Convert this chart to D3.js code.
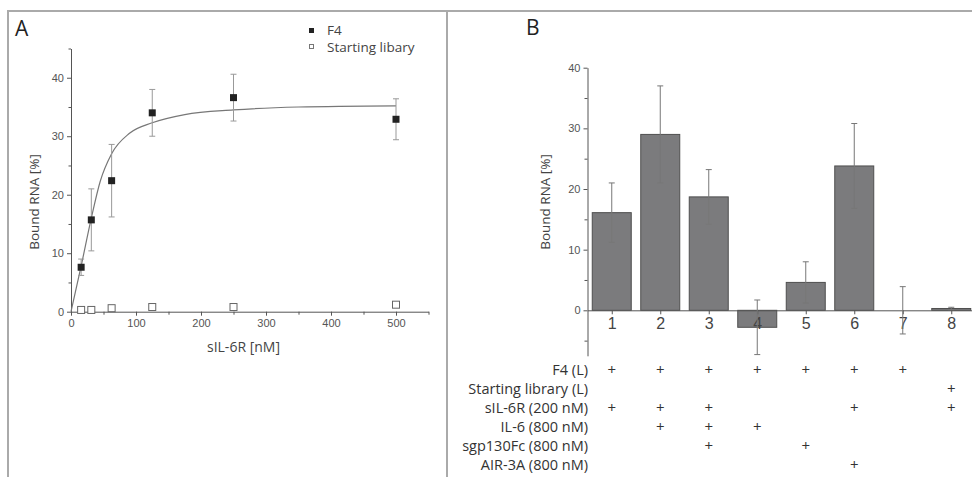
<!DOCTYPE html>
<html>
<head>
<meta charset="utf-8">
<script src="https://cdn.jsdelivr.net/npm/d3@7"></script>
<style>
body { margin: 0; background: #fff; }
svg { display: block; font-family: "Open Sans", sans-serif; }
.tick text { fill: #555; font-size: 11px; }
.domain, .tick line { stroke: #555; }
</style>
</head>
<body>
<svg width="972" height="477"></svg>
<script>
// panel A data
var conc = [15.6, 31.25, 62.5, 125, 250, 500];
var f4Bound = [7.6, 15.7, 22.4, 34.0, 36.6, 32.9];
var f4Err = [1.4, 5.3, 6.2, 4.0, 4.0, 3.5];
var libBound = [0.3, 0.3, 0.6, 0.8, 0.8, 1.2];
// fit curve
var fitX = [0, 15.6, 31.25, 45, 62.5, 90, 125, 175, 250, 350, 500];
var fitY = [0, 7.8, 16.0, 22.3, 27.0, 30.5, 32.3, 33.7, 34.5, 35.0, 35.2];

// panel B data
var lanes = [1, 2, 3, 4, 5, 6, 7, 8];
var laneBound = [16.1, 29.0, 18.7, -2.8, 4.6, 23.8, 0, 0.3];
var laneErr = [4.9, 8.0, 4.5, 4.5, 3.4, 7.0, 3.9, 0.2];
var rowLabels = ["F4 (L)", "Starting library (L)", "sIL-6R (200 nM)", "IL-6 (800 nM)", "sgp130Fc (800 nM)", "AIR-3A (800 nM)"];
var rowLanes = [[1,2,3,4,5,6,7], [8], [1,2,3,6,8], [2,3,4], [3,5], [6]];

var svg = d3.select("svg");

// panel frames
svg.append("path")
  .attr("d", "M8,480 V11 H972 M447,11 V480")
  .attr("fill", "none")
  .attr("stroke", "#aaa")
  .attr("stroke-width", 2);

svg.append("text").attr("x", 15).attr("y", 36).attr("font-size", 21).attr("fill", "#222").text("A");
svg.append("text").attr("x", 526).attr("y", 35).attr("font-size", 21).attr("fill", "#222").text("B");

// ---------- panel A ----------
var xA = d3.scaleLinear().domain([0, 550]).range([71, 428.5]);
var yA = d3.scaleLinear().domain([0, 45]).range([311.7, 48.5]);

var gA = svg.append("g");

gA.append("g")
  .attr("transform", "translate(0," + yA(0) + ")")
  .call(d3.axisBottom(xA).tickValues([0,100,200,300,400,500]).tickSize(4).tickSizeOuter(0).tickPadding(4));
gA.append("g")
  .attr("transform", "translate(0," + yA(0) + ")")
  .call(d3.axisBottom(xA).tickValues([50,150,250,350,450,550]).tickSize(3).tickFormat("").tickSizeOuter(0))
  .select(".domain").remove();

gA.append("g")
  .attr("transform", "translate(" + xA(0) + ",0)")
  .call(d3.axisLeft(yA).tickValues([0,10,20,30,40]).tickSize(4).tickSizeOuter(0).tickPadding(3));
gA.append("g")
  .attr("transform", "translate(" + xA(0) + ",0)")
  .call(d3.axisLeft(yA).tickValues([5,15,25,35,45]).tickSize(2.5).tickFormat("").tickSizeOuter(0))
  .select(".domain").remove();

gA.append("text")
  .attr("x", (xA(0) + xA(500)) / 2 + 10).attr("y", 352)
  .attr("text-anchor", "middle").attr("font-size", 14).attr("fill", "#444")
  .text("sIL-6R [nM]");
gA.append("text")
  .attr("transform", "translate(39,202) rotate(-90)")
  .attr("text-anchor", "middle").attr("font-size", 13.5).attr("fill", "#444")
  .text("Bound RNA [%]");

var fitLine = d3.line()
  .x(function(d, i) { return xA(fitX[i]); })
  .y(function(d, i) { return yA(fitY[i]); })
  .curve(d3.curveMonotoneX);
gA.append("path")
  .datum(fitX)
  .attr("d", fitLine)
  .attr("fill", "none")
  .attr("stroke", "#777")
  .attr("stroke-width", 1.2);

// error bars F4
var errA = gA.selectAll(".errA").data(conc).enter().append("g").attr("class", "errA")
  .attr("stroke", "#999").attr("stroke-width", 1);
errA.append("line")
  .attr("x1", function(d) { return xA(d); }).attr("x2", function(d) { return xA(d); })
  .attr("y1", function(d, i) { return yA(f4Bound[i] + f4Err[i]); })
  .attr("y2", function(d, i) { return yA(f4Bound[i] - f4Err[i]); });
errA.append("line")
  .attr("x1", function(d) { return xA(d) - 3; }).attr("x2", function(d) { return xA(d) + 3; })
  .attr("y1", function(d, i) { return yA(f4Bound[i] + f4Err[i]); })
  .attr("y2", function(d, i) { return yA(f4Bound[i] + f4Err[i]); });
errA.append("line")
  .attr("x1", function(d) { return xA(d) - 3; }).attr("x2", function(d) { return xA(d) + 3; })
  .attr("y1", function(d, i) { return yA(f4Bound[i] - f4Err[i]); })
  .attr("y2", function(d, i) { return yA(f4Bound[i] - f4Err[i]); });

gA.selectAll(".lib").data(conc).enter().append("rect")
  .attr("class", "lib")
  .attr("x", function(d) { return xA(d) - 3.5; })
  .attr("y", function(d, i) { return yA(libBound[i]) - 3.5; })
  .attr("width", 7).attr("height", 7)
  .attr("fill", "#fff").attr("stroke", "#666");

gA.selectAll(".f4").data(conc).enter().append("rect")
  .attr("class", "f4")
  .attr("x", function(d) { return xA(d) - 3.5; })
  .attr("y", function(d, i) { return yA(f4Bound[i]) - 3.5; })
  .attr("width", 7).attr("height", 7)
  .attr("fill", "#222");

// legend
var legend = gA.append("g").attr("font-size", 13.5).attr("fill", "#444");
legend.append("rect").attr("x", 309).attr("y", 28).attr("width", 5).attr("height", 5).attr("fill", "#222");
legend.append("rect").attr("x", 309.5).attr("y", 44.5).attr("width", 4).attr("height", 4).attr("fill", "#fff").attr("stroke", "#777");
legend.append("text").attr("x", 327).attr("y", 35).text("F4");
legend.append("text").attr("x", 327).attr("y", 52).text("Starting libary");

// ---------- panel B ----------
var xB = d3.scaleLinear().domain([0.5, 8.5]).range([587.5, 975.5]);
var yB = d3.scaleLinear().domain([-7.5, 40]).range([355.8, 67.7]);
var barW = 39;

var gB = svg.append("g");

gB.append("g")
  .attr("transform", "translate(" + xB(0.5) + ",0)")
  .call(d3.axisLeft(yB).tickValues([0,10,20,30,40]).tickSize(4).tickSizeOuter(0).tickPadding(3));
gB.append("g")
  .attr("transform", "translate(" + xB(0.5) + ",0)")
  .call(d3.axisLeft(yB).tickValues([-5,5,15,25,35]).tickSize(3).tickFormat("").tickSizeOuter(0))
  .select(".domain").remove();

gB.selectAll(".bar").data(lanes).enter().append("rect")
  .attr("class", "bar")
  .attr("x", function(d) { return xB(d) - barW / 2; })
  .attr("y", function(d, i) { return yB(Math.max(0, laneBound[i])); })
  .attr("width", barW)
  .attr("height", function(d, i) { return Math.abs(yB(laneBound[i]) - yB(0)); })
  .attr("fill", "#7b7b7d").attr("stroke", "#4f4f4f").attr("stroke-width", 1);

var xAxisB = gB.append("g")
  .attr("transform", "translate(0," + yB(0) + ")")
  .call(d3.axisBottom(xB).tickValues(lanes).tickSize(4).tickSizeOuter(0).tickPadding(3));
xAxisB.selectAll(".tick text").style("font-size", "16px").style("fill", "#444");

var errB = gB.selectAll(".errB").data(lanes).enter().append("g").attr("class", "errB")
  .attr("stroke", "#777").attr("stroke-width", 1);
errB.append("line")
  .attr("x1", function(d) { return xB(d); }).attr("x2", function(d) { return xB(d); })
  .attr("y1", function(d, i) { return yB(laneBound[i] + laneErr[i]); })
  .attr("y2", function(d, i) { return yB(laneBound[i] - laneErr[i]); });
errB.append("line")
  .attr("x1", function(d) { return xB(d) - 3; }).attr("x2", function(d) { return xB(d) + 3; })
  .attr("y1", function(d, i) { return yB(laneBound[i] + laneErr[i]); })
  .attr("y2", function(d, i) { return yB(laneBound[i] + laneErr[i]); });
errB.append("line")
  .attr("x1", function(d) { return xB(d) - 3; }).attr("x2", function(d) { return xB(d) + 3; })
  .attr("y1", function(d, i) { return yB(laneBound[i] - laneErr[i]); })
  .attr("y2", function(d, i) { return yB(laneBound[i] - laneErr[i]); });

gB.append("text")
  .attr("transform", "translate(550,202) rotate(-90)")
  .attr("text-anchor", "middle").attr("font-size", 13.5).attr("fill", "#444")
  .text("Bound RNA [%]");

// condition table
var rowY = d3.scalePoint().domain(rowLabels).range([375, 470]);
gB.selectAll(".rowLabel").data(rowLabels).enter().append("text")
  .attr("class", "rowLabel")
  .attr("x", 588).attr("y", function(d) { return rowY(d); })
  .attr("text-anchor", "end").attr("font-size", 14.5).attr("fill", "#333")
  .text(function(d) { return d; });

rowLabels.forEach(function(label, r) {
  gB.selectAll(".plus" + r).data(rowLanes[r]).enter().append("text")
    .attr("x", function(d) { return xB(d); })
    .attr("y", rowY(label))
    .attr("text-anchor", "middle").attr("font-size", 15).attr("fill", "#333")
    .text("+");
});
</script>
</body>
</html>
